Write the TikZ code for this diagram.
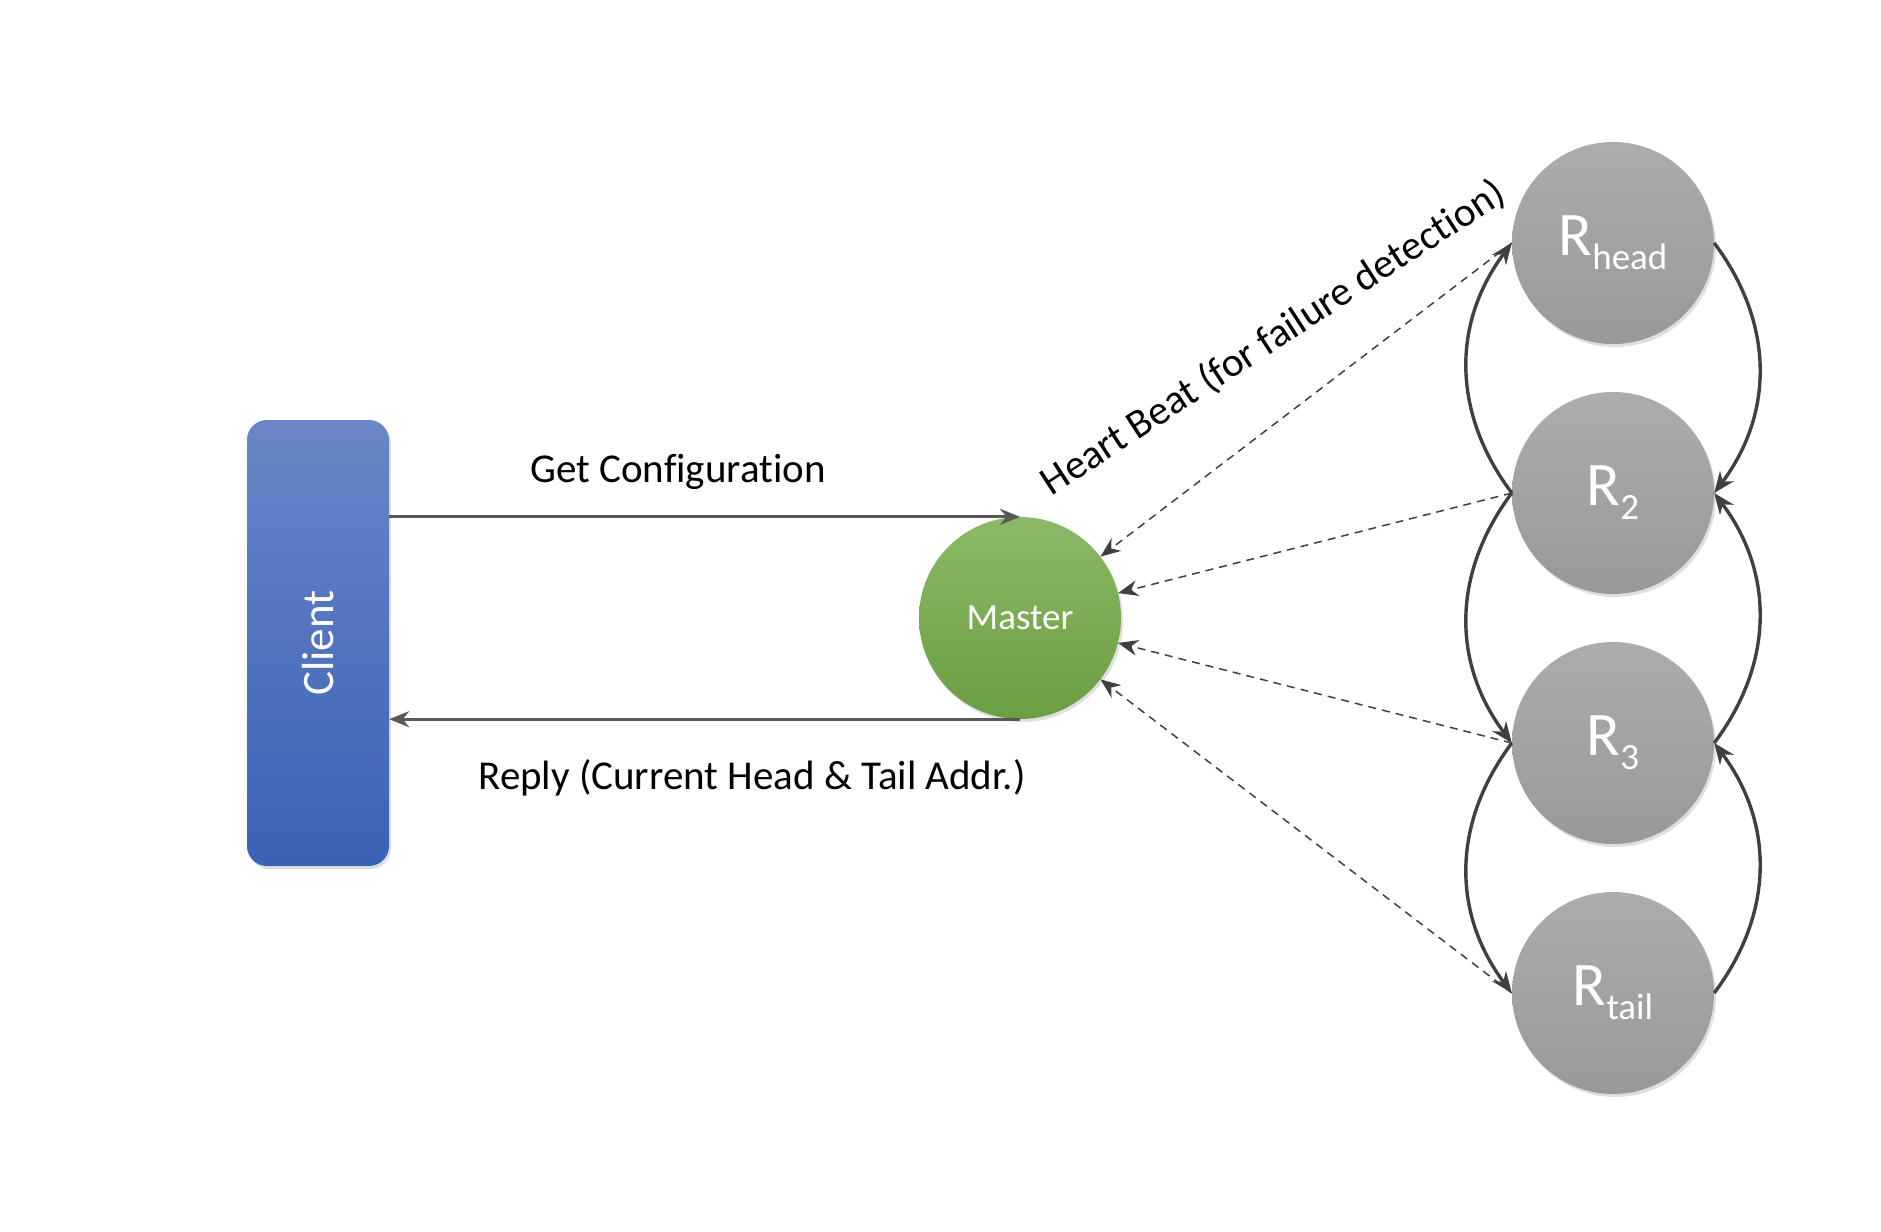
\documentclass[tikz,border=0pt]{standalone}
\usepackage{fontspec}
\setmainfont{Carlito}[Ligatures=NoCommon]
\usetikzlibrary{arrows.meta,shadows,calc}
\definecolor{linegray}{HTML}{404040}
\definecolor{arrgray}{HTML}{595959}
\begin{document}
\begin{tikzpicture}[x=1pt,y=-1pt,
  replica/.style={circle,minimum size=202pt,inner sep=0pt,top color=gray!65,bottom color=gray!80,draw=none,
    drop shadow={opacity=0.25,shadow xshift=2pt,shadow yshift=-3pt},text=white},
  chain/.style={draw=linegray,line width=3.4pt,arrows={-Stealth[length=21pt,width=17pt]}},
  hb/.style={draw=linegray,line width=1.5pt,dash pattern=on 8pt off 6pt,arrows={-Stealth[length=20pt,width=16pt]}},
  flow/.style={draw=arrgray,line width=3.2pt,arrows={-Stealth[length=20pt,width=16pt]}},
  lbl/.style={font=\fontsize{41}{45}\selectfont,text=black}]
\useasboundingbox (0,0) rectangle (1881,1231);
\newcommand{\repl}[1]{{\fontsize{62}{62}\selectfont R}\raisebox{-14pt}{\fontsize{37}{37}\selectfont #1}}
\node[rounded corners=20pt,minimum width=142pt,minimum height=446pt,inner sep=0pt,
  top color={rgb,255:red,106;green,134;blue,200},bottom color={rgb,255:red,58;green,98;blue,181},
  drop shadow={opacity=0.25,shadow xshift=2pt,shadow yshift=-3pt}] (client) at (318,643) {};
\node[rotate=90,text=white,font=\fontsize{45}{45}\selectfont] (clientlbl) at (client.center) {Client};
\node[circle,minimum size=202pt,inner sep=0pt,top color={rgb,255:red,140;green,185;blue,102},bottom color={rgb,255:red,106;green,158;blue,66},
  drop shadow={opacity=0.25,shadow xshift=2pt,shadow yshift=-3pt},text=white,font=\fontsize{37}{37}\selectfont] (master) at (1020,618) {Master};
\node[replica] (r1) at (1613,243) {\repl{head}};
\node[replica] (r2) at (1613,493) {\repl{2}};
\node[replica] (r3) at (1613,743) {\repl{3}};
\node[replica] (r4) at (1613,993) {\repl{tail}};
% client <-> master
\draw[flow] (client.east |- master.north) -- (master.north);
\draw[flow] (master.south) -- (client.east |- master.south);
\node[lbl] (getcfg) at (678,472) {Get Configuration};
\node[lbl] (reply) at (752,778) {Reply (Current Head \& Tail Addr.)};
% heart beats
\draw[hb] (r1.west) -- (master);
\draw[hb] (r2.west) -- (master);
\draw[hb] (r3.west) -- (master);
\draw[hb] (r4.west) -- (master);
\node[lbl,rotate=33] (hblbl) at (1273,338) {Heart Beat (for failure detection)};
% chain, left side
\draw[chain] (r2.west) .. controls +(-60,-80) and +(-60,80) .. (r1.west);
\draw[chain] (r2.west) .. controls +(-60,80) and +(-60,-80) .. (r3.west);
\draw[chain] (r3.west) .. controls +(-60,80) and +(-60,-80) .. (r4.west);
% chain, right side
\draw[chain] (r1.east) .. controls +(60,80) and +(60,-80) .. (r2.east);
\draw[chain] (r3.east) .. controls +(60,-80) and +(60,80) .. (r2.east);
\draw[chain] (r4.east) .. controls +(60,-80) and +(60,80) .. (r3.east);
\end{tikzpicture}
\end{document}
